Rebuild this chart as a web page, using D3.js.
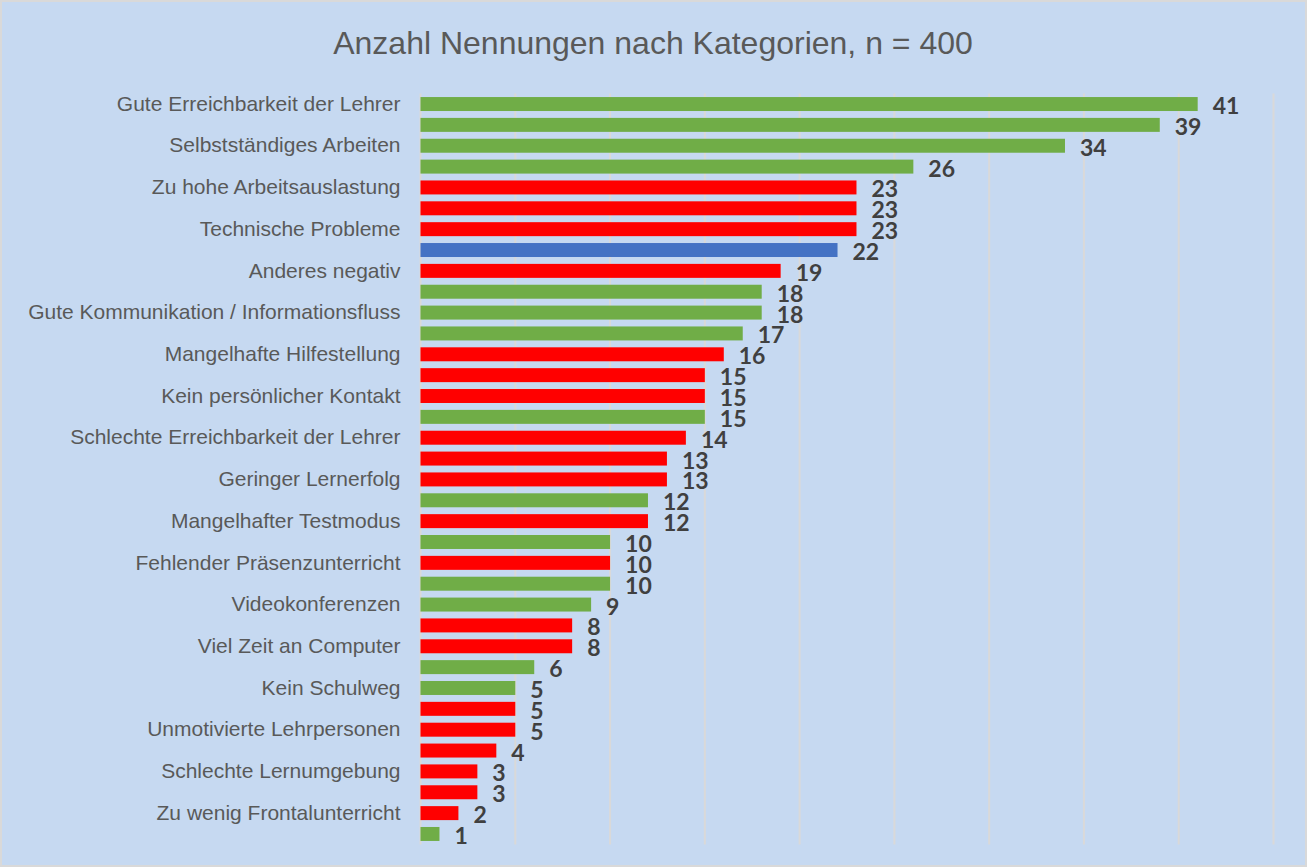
<!DOCTYPE html>
<html>
<head>
<meta charset="utf-8">
<script src="https://cdn.jsdelivr.net/npm/d3@7"></script>
<style>
  body { margin: 0; background: #fff; }
</style>
</head>
<body>
<svg id="chart" width="1307" height="867"></svg>
<script>
// values, top to bottom
const values = [41, 39, 34, 26, 23, 23, 23, 22, 19, 18, 18, 17, 16, 15, 15, 15, 14, 13,
                13, 12, 12, 10, 10, 10, 9, 8, 8, 6, 5, 5, 5, 4, 3, 3, 2, 1];

// g = positive, r = negative, b = neutral
const groups = ["g", "g", "g", "g", "r", "r", "r", "b", "r", "g", "g", "g", "r", "r", "r", "g", "r", "r",
                "r", "g", "r", "g", "r", "g", "g", "r", "r", "g", "g", "r", "r", "r", "r", "r", "r", "g"];

// only every second category name is printed in the original
const tickLabels = [
    "Gute Erreichbarkeit der Lehrer",
    "Selbstständiges Arbeiten",
    "Zu hohe Arbeitsauslastung",
    "Technische Probleme",
    "Anderes negativ",
    "Gute Kommunikation / Informationsfluss",
    "Mangelhafte Hilfestellung",
    "Kein persönlicher Kontakt",
    "Schlechte Erreichbarkeit der Lehrer",
    "Geringer Lernerfolg",
    "Mangelhafter Testmodus",
    "Fehlender Präsenzunterricht",
    "Videokonferenzen",
    "Viel Zeit an Computer",
    "Kein Schulweg",
    "Unmotivierte Lehrpersonen",
    "Schlechte Lernumgebung",
    "Zu wenig Frontalunterricht"
];

const xTicks = [0, 5, 10, 15, 20, 25, 30, 35, 40, 45];

const colors = { g: "#70AD47", r: "#FF0000", b: "#4472C4" };

const svg = d3.select("#chart");
const W = 1307, H = 867;

// background
svg.append("rect")
    .attr("x", 0.5).attr("y", 0.5)
    .attr("width", W - 1).attr("height", H - 1)
    .attr("fill", "#C6D9F1")
    .attr("stroke", "#D9D9D9")
    .attr("stroke-width", 3);

// title
svg.append("text")
    .attr("x", 653)
    .attr("y", 54)
    .attr("text-anchor", "middle")
    .style("font-family", "Liberation Sans, Arial, sans-serif")
    .style("font-size", "32px")
    .style("fill", "#595959")
    .text("Anzahl Nennungen nach Kategorien, n = 400");

const x = d3.scaleLinear().domain([0, 45]).range([420.5, 1273.5]);
const y = d3.scaleBand()
    .domain(d3.range(values.length))
    .range([93.6, 844.4])
    .paddingInner(0.33)
    .paddingOuter(0.165);

// gridlines
svg.append("g")
    .selectAll("line")
    .data(xTicks)
    .enter()
    .append("line")
    .attr("x1", d => x(d)).attr("x2", d => x(d))
    .attr("y1", 93.6).attr("y2", 844.4)
    .attr("stroke", "#D9D9D9")
    .attr("stroke-width", 2);

// bars
svg.append("g")
    .selectAll("rect")
    .data(values)
    .enter()
    .append("rect")
    .attr("x", x(0))
    .attr("y", (d, i) => y(i))
    .attr("width", d => x(d) - x(0))
    .attr("height", y.bandwidth())
    .attr("fill", (d, i) => colors[groups[i]]);

// value labels
svg.append("g")
    .selectAll("text")
    .data(values)
    .enter()
    .append("text")
    .attr("x", d => x(d) + 15)
    .attr("y", (d, i) => y(i) + y.bandwidth() / 2 + 1)
    .attr("dominant-baseline", "central")
    .style("font-family", "Lato, 'Open Sans', sans-serif")
    .style("font-weight", "bold")
    .style("font-size", "23px")
    .style("fill", "#404040")
    .text(d => d);

// category axis
const yAxis = d3.axisLeft(y)
    .tickSize(0)
    .tickPadding(20)
    .tickFormat(i => i % 2 === 0 ? tickLabels[i / 2] : "");

const axisG = svg.append("g")
    .attr("transform", `translate(${x(0)},0)`)
    .call(yAxis);

axisG.select(".domain").remove();
axisG.selectAll("text")
    .style("font-family", "Liberation Sans, Arial, sans-serif")
    .style("font-size", "21px")
    .style("fill", "#595959");
</script>
</body>
</html>
